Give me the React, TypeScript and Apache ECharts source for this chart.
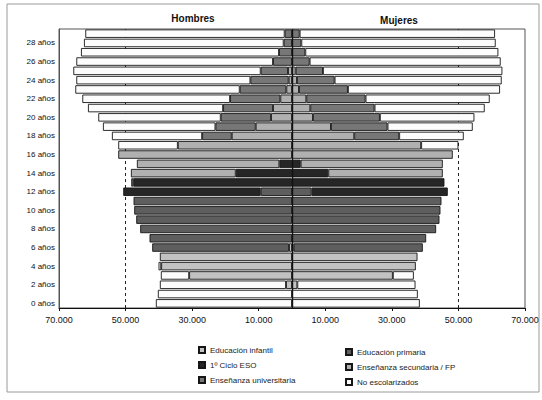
import React, { useEffect, useRef } from "react";
import * as echarts from "echarts";

const ages = [
  "0 años", "1 años", "2 años", "3 años", "4 años", "5 años", "6 años", "7 años", "8 años", "9 años",
  "10 años", "11 años", "12 años", "13 años", "14 años", "15 años", "16 años", "17 años", "18 años", "19 años",
  "20 años", "21 años", "22 años", "23 años", "24 años", "25 años", "26 años", "27 años", "28 años", "29 años",
];

const seriesNames = [
  "Educación infantil",
  "Educación primaria",
  "1º Ciclo ESO",
  "Enseñanza secundaria / FP",
  "Enseñanza universitaria",
  "No escolarizados",
];

// Hombres (ages 0..29)
const hInfantil = [0, 0, 1800, 30900, 39300, 39700, 900, 0, 0, 0, 0, 0, 0, 0, 0, 0, 0, 0, 0, 0, 0, 0, 0, 0, 0, 0, 0, 0, 0, 0];
const hPrimaria = [0, 0, 0, 0, 0, 0, 41100, 42800, 45600, 46800, 47400, 47600, 9400, 0, 0, 0, 0, 0, 0, 0, 0, 0, 0, 0, 0, 0, 0, 0, 0, 0];
const hESO = [0, 0, 0, 0, 0, 0, 0, 0, 0, 0, 0, 0, 41300, 47700, 16900, 3800, 0, 0, 0, 0, 0, 0, 0, 0, 0, 0, 0, 0, 0, 0];
const hSecundaria = [0, 0, 0, 0, 0, 0, 0, 0, 0, 0, 0, 0, 0, 600, 31500, 42800, 52200, 34300, 18100, 10900, 6300, 5700, 3500, 1700, 1000, 1200, 0, 0, 0, 0];
const hUniversitaria = [0, 0, 0, 0, 0, 0, 0, 0, 0, 0, 0, 0, 0, 0, 0, 0, 0, 0, 8900, 12100, 15100, 15000, 15100, 14000, 11500, 8200, 5700, 3900, 2500, 2200];
const hNoEsc = [40900, 40300, 37900, 8500, 800, 0, 0, 0, 0, 0, 0, 0, 0, 0, 0, 0, 0, 17900, 27100, 33800, 36800, 40600, 44400, 49400, 52300, 56300, 59100, 59500, 60000, 59900];

// Mujeres (ages 0..29)
const mInfantil = [0, 0, 1600, 30300, 37200, 37700, 500, 0, 0, 0, 0, 0, 0, 0, 0, 0, 0, 0, 0, 0, 0, 0, 0, 0, 0, 0, 0, 0, 0, 0];
const mPrimaria = [0, 0, 0, 0, 0, 0, 38800, 40300, 43300, 44300, 44600, 44900, 5900, 0, 0, 0, 0, 0, 0, 0, 0, 0, 0, 0, 0, 0, 0, 0, 0, 0];
const mESO = [0, 0, 0, 0, 0, 0, 0, 0, 0, 0, 0, 0, 40900, 45800, 10900, 2600, 0, 0, 0, 0, 0, 0, 0, 0, 0, 0, 0, 0, 0, 0];
const mSecundaria = [0, 0, 0, 0, 0, 0, 0, 0, 0, 0, 0, 0, 0, 0, 34400, 42700, 48300, 38800, 18700, 11700, 6300, 5500, 4300, 2100, 1500, 1100, 0, 0, 0, 0];
const mUniversitaria = [0, 0, 0, 0, 0, 0, 0, 0, 0, 0, 0, 0, 0, 0, 0, 0, 0, 0, 13500, 17000, 20100, 19300, 17800, 14700, 11300, 8200, 5300, 4000, 2800, 2300];
const mNoEsc = [38400, 37800, 35500, 6300, 0, 0, 0, 0, 0, 0, 0, 0, 0, 0, 0, 0, 0, 11200, 19400, 25600, 28400, 33100, 37300, 45700, 50200, 53900, 57400, 58000, 58400, 58700];

const genderTitles = ["Hombres", "Mujeres"];

const colors = ["#c2c2c2", "#5e5e5e", "#262626", "#b0b0b0", "#777777", "#fcfcfc"];
const FONT = '"Liberation Sans", Arial, Helvetica, sans-serif';

const fmt = (v: number) => String(Math.abs(v)).replace(/\B(?=(\d{3})+(?!\d))/g, ".");

export default function App() {
  const ref = useRef<HTMLDivElement>(null);
  useEffect(() => {
    if (!ref.current) return;
    const chart = echarts.init(ref.current, undefined, { renderer: "svg" });
    const hombres = [hInfantil, hPrimaria, hESO, hSecundaria, hUniversitaria, hNoEsc];
    const mujeres = [mInfantil, mPrimaria, mESO, mSecundaria, mUniversitaria, mNoEsc];
    const barSeries: any[] = [];
    const mk = (arr: number[], sign: number, i: number) => ({
      type: "bar",
      name: seriesNames[i],
      stack: "total",
      data: arr.map((v) => (v ? sign * v : "-")),
      barCategoryGap: "9%",
      itemStyle: { color: colors[i], borderColor: "#161616", borderWidth: 0.9 },
      emphasis: { disabled: true },
      z: 3,
    });
    hombres.forEach((arr, i) => barSeries.push(mk(arr, -1, i)));
    mujeres.forEach((arr, i) => barSeries.push(mk(arr, 1, i)));

    const legendBase = {
      orient: "vertical",
      padding: 0,
      itemWidth: 6,
      itemHeight: 6,
      itemGap: 7,
      icon: "rect",
      selectedMode: false,
      textStyle: { fontSize: 8, color: "#222", fontFamily: FONT },
    };

    chart.setOption({
      animation: false,
      backgroundColor: "#ffffff",
      textStyle: { fontFamily: FONT },
      grid: { left: 59, right: 17, top: 29, bottom: 92, show: true, borderColor: "#555", borderWidth: 1 },
      xAxis: {
        type: "value",
        min: -70000,
        max: 70000,
        interval: 20000,
        axisLine: { show: true, lineStyle: { color: "#111", width: 1 } },
        axisTick: { show: true, length: 3, lineStyle: { color: "#111" } },
        splitLine: { show: false },
        axisLabel: { formatter: fmt, fontSize: 9, color: "#111", margin: 7, fontFamily: FONT },
      },
      yAxis: {
        type: "category",
        data: ages,
        axisLine: { show: true, onZero: false, lineStyle: { color: "#555" } },
        axisTick: { show: false },
        axisLabel: { interval: 1, fontSize: 8, color: "#111", margin: 4, fontFamily: FONT },
      },
      legend: [
        { ...legendBase, data: [seriesNames[0], seriesNames[2], seriesNames[4]], left: 198, top: 346 },
        { ...legendBase, data: [seriesNames[1], seriesNames[3], seriesNames[5]], left: 345, top: 348 },
      ],
      graphic: [
        {
          type: "rect",
          silent: true,
          shape: { x: 7, y: 4, width: 532, height: 388 },
          style: { fill: "none", stroke: "#9a9a9a", lineWidth: 1 },
        },
        {
          type: "text",
          x: 193,
          y: 18,
          style: { text: genderTitles[0], fontSize: 10, fontWeight: "bold", fontFamily: FONT, fill: "#111", align: "center", verticalAlign: "middle" },
        },
        {
          type: "text",
          x: 399,
          y: 20,
          style: { text: genderTitles[1], fontSize: 10, fontWeight: "bold", fontFamily: FONT, fill: "#111", align: "center", verticalAlign: "middle" },
        },
      ],
      series: [
        {
          type: "line",
          data: [],
          z: 1,
          markLine: {
            z: 1,
            silent: true,
            symbol: "none",
            label: { show: false },
            lineStyle: { color: "#222", width: 1, type: [3, 3] },
            data: [{ xAxis: -50000 }, { xAxis: 50000 }],
          },
        },
        ...barSeries,
        {
          type: "line",
          data: [],
          z: 10,
          markLine: {
            z: 10,
            silent: true,
            symbol: "none",
            label: { show: false },
            lineStyle: { color: "#111", width: 1.4, type: "solid" },
            data: [{ xAxis: 0 }],
          },
        },
      ],
    });
    return () => chart.dispose();
  }, []);
  return <div ref={ref} style={{ position: "fixed", left: 0, top: 0, width: 542, height: 400 }} />;
}
